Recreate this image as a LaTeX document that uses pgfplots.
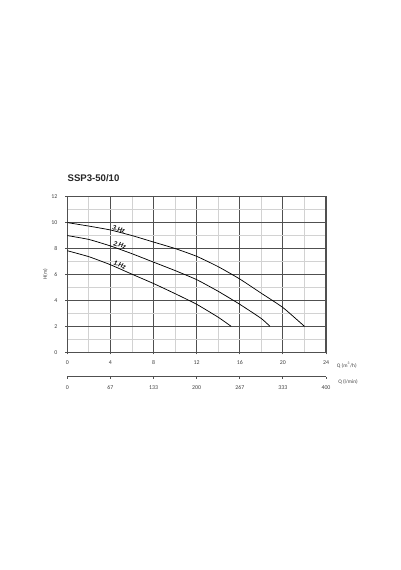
\documentclass[border=0pt]{standalone}
\usepackage{pgfplots}
\pgfplotsset{compat=1.18}
\usepackage{fontspec}
\setmainfont{Carlito}
\newfontfamily\titlefont{Liberation Sans}

\definecolor{majgrid}{HTML}{505050}
\definecolor{mingrid}{HTML}{D2D2D2}

% curves, Q in m3/h, H in m
\pgfplotstableread{
q h
0 10.0
2 9.73
4 9.43
6 9.0
8 8.5
10 8.0
12 7.4
14 6.6
16 5.65
18 4.55
20 3.45
22 2.0
}\hzthree
\pgfplotstableread{
q h
0 9.0
2 8.7
4 8.2
6 7.6
8 6.95
10 6.3
12 5.6
14 4.7
16 3.7
18 2.6
18.8 2.0
}\hztwo
\pgfplotstableread{
q h
0 7.83
2 7.37
4 6.75
6 6.02
8 5.3
10 4.52
12 3.7
14 2.7
15.2 2.0
}\hzone

\begin{document}
\begin{tikzpicture}
\path[use as bounding box] (-50.5pt,-163.3pt) rectangle (249.5pt,264.2pt);
\begin{axis}[
  at={(0,0)}, anchor=south west,
  scale only axis,
  width=194pt, height=116.7pt,
  xmin=0, xmax=24, ymin=0, ymax=12,
  xtick={0,4,...,24}, ytick={0,2,...,12},
  minor x tick num=1, minor y tick num=1,
  grid=both,
  major grid style={majgrid, line width=0.8pt},
  minor grid style={mingrid, line width=0.75pt},
  axis line style={majgrid, line width=0.8pt},
  tick align=outside, xtick pos=left, ytick pos=left,
  major tick length=1.5pt, minor tick length=0pt,
  tick style={majgrid, line width=0.6pt},
  /pgf/number format/assume math mode=true,
  ticklabel style={font=\fontsize{4.4}{5}\selectfont, text=black!75},
  xticklabel style={yshift=-1.5pt},
  yticklabel style={xshift=-2.5pt},
  title={\titlefont\bfseries SSP3-50/10},
  title style={at={(0,1)}, anchor=base west, inner sep=0pt, yshift=5.6pt,
    font=\fontsize{7.2}{8}\selectfont, text=black!85},
  ylabel={H(m)},
  ylabel style={at={(axis description cs:-0.085,0.5)}, anchor=center,
    font=\fontsize{4}{5}\selectfont, text=black!75},
  clip=false,
]
\addplot[black, line width=0.55pt, smooth, tension=0.3] table[x=q, y=h] {\hzthree};
\addplot[black, line width=0.55pt, smooth, tension=0.3] table[x=q, y=h] {\hztwo};
\addplot[black, line width=0.55pt, smooth, tension=0.3] table[x=q, y=h] {\hzone};

\node[font=\fontsize{5.3}{6}\selectfont\bfseries\itshape, rotate=-15, inner sep=0pt]
  at (axis cs:4.75,9.5) {3.Hz};
\node[font=\fontsize{5.3}{6}\selectfont\bfseries\itshape, rotate=-18, inner sep=0pt]
  at (axis cs:4.85,8.27) {2.Hz};
\node[font=\fontsize{5.3}{6}\selectfont\bfseries\itshape, rotate=-22, inner sep=0pt]
  at (axis cs:4.85,6.75) {1.Hz};

\node[anchor=west, inner sep=0pt, font=\fontsize{4}{5}\selectfont, text=black!75]
  at (rel axis cs:1,0) [xshift=8pt, yshift=-9.5pt] {Q (m\textsuperscript{3}/h)};
\node[anchor=west, inner sep=0pt, font=\fontsize{4}{5}\selectfont, text=black!75]
  at (rel axis cs:1,0) [xshift=9pt, yshift=-22pt] {Q (l/min)};
\end{axis}

\begin{axis}[
  at={(0,-18.3pt)}, anchor=south west,
  scale only axis,
  width=194pt, height=1pt,
  xmin=0, xmax=400, ymin=0, ymax=1,
  axis x line*=bottom, hide y axis,
  axis line style={majgrid, line width=0.8pt},
  xtick={0,66.667,133.333,200,266.667,333.333,400},
  xticklabels={0,67,133,200,267,333,400},
  tick align=outside, major tick length=1.5pt,
  tick style={majgrid, line width=0.6pt},
  /pgf/number format/assume math mode=true,
  ticklabel style={font=\fontsize{4.4}{5}\selectfont, text=black!75},
  xticklabel style={yshift=-1.5pt},
]
\addplot[draw=none] coordinates {(0,0) (400,0)};
\end{axis}
\end{tikzpicture}
\end{document}
